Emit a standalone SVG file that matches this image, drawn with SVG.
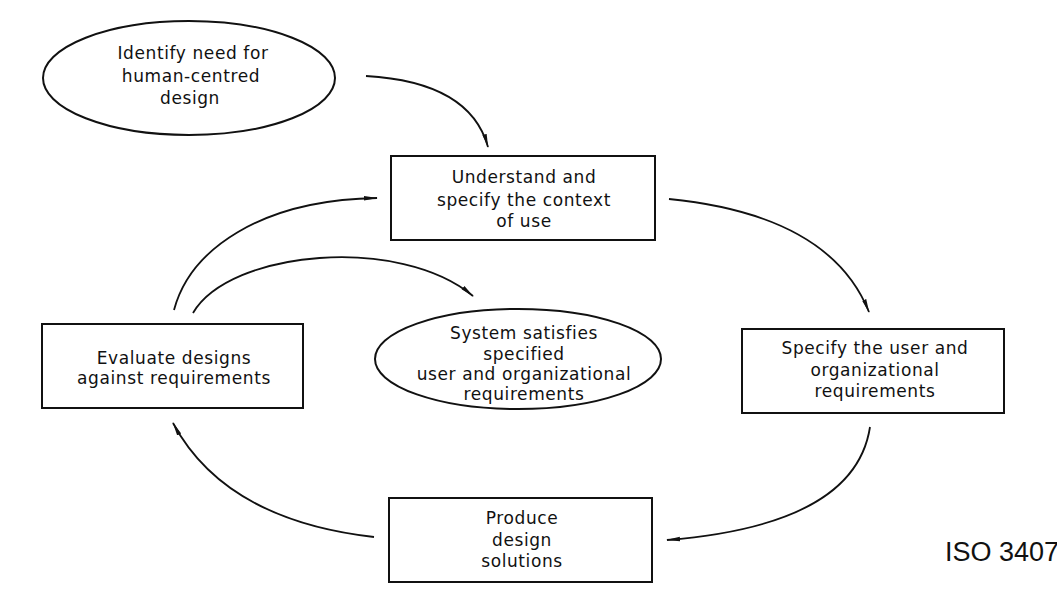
<svg xmlns="http://www.w3.org/2000/svg" width="1057" height="592" viewBox="0 0 1057 592">
<defs>
<style>
.n{fill:none;stroke:#111;stroke-width:2}
.t{font-family:"DejaVu Sans",sans-serif;font-size:17px;letter-spacing:0.6px;fill:#111;text-anchor:middle}
.c{fill:none;stroke:#111;stroke-width:1.8}
</style>
<marker id="ah" viewBox="0 0 14 6" refX="13" refY="3" markerWidth="14" markerHeight="6" markerUnits="userSpaceOnUse" orient="auto">
<path d="M0,0.8 L14,3 L0,5.2 Z" fill="#111"/>
</marker>
</defs>
<rect width="1057" height="592" fill="#fff"/>
<g id="identify">
<ellipse class="n" cx="189" cy="78" rx="146" ry="57"/>
<text class="t"><tspan x="193" y="59">Identify need for</tspan><tspan x="191" y="82">human-centred</tspan><tspan x="190" y="104">design</tspan></text>
</g>
<g id="understand">
<rect class="n" x="391" y="156" width="264" height="84"/>
<text class="t"><tspan x="524" y="183">Understand and</tspan><tspan x="524" y="206">specify the context</tspan><tspan x="524" y="227">of use</tspan></text>
</g>
<g id="satisfies">
<ellipse class="n" cx="518" cy="359" rx="143" ry="50"/>
<text class="t"><tspan x="524" y="339">System satisfies</tspan><tspan x="524" y="360">specified</tspan><tspan x="524" y="380">user and organizational</tspan><tspan x="524" y="400">requirements</tspan></text>
</g>
<g id="evaluate">
<rect class="n" x="42" y="324" width="261" height="84"/>
<text class="t"><tspan x="174" y="364">Evaluate designs</tspan><tspan x="174" y="384">against requirements</tspan></text>
</g>
<g id="specify">
<rect class="n" x="742" y="329" width="262" height="84"/>
<text class="t"><tspan x="875" y="354">Specify the user and</tspan><tspan x="875" y="376">organizational</tspan><tspan x="875" y="397">requirements</tspan></text>
</g>
<g id="produce">
<rect class="n" x="389" y="498" width="263" height="84"/>
<text class="t"><tspan x="522" y="524">Produce</tspan><tspan x="522" y="546">design</tspan><tspan x="522" y="567">solutions</tspan></text>
</g>
<g id="connectors">
<path class="c" d="M366,76 Q470,82 488,147" marker-end="url(#ah)"/>
<path class="c" d="M669,199 Q830,215 869,312" marker-end="url(#ah)"/>
<path class="c" d="M870,427 Q855,525 667,540" marker-end="url(#ah)"/>
<path class="c" d="M374,537 Q225,520 173,423" marker-end="url(#ah)"/>
<path class="c" d="M174,310 C190,250 260,200 377,198" marker-end="url(#ah)"/>
<path class="c" d="M193,313 C230,250 400,235 473,296" marker-end="url(#ah)"/>
</g>
<text x="945" y="561" font-family="'Liberation Sans',sans-serif" font-size="27" fill="#111">ISO 3407</text>
</svg>
